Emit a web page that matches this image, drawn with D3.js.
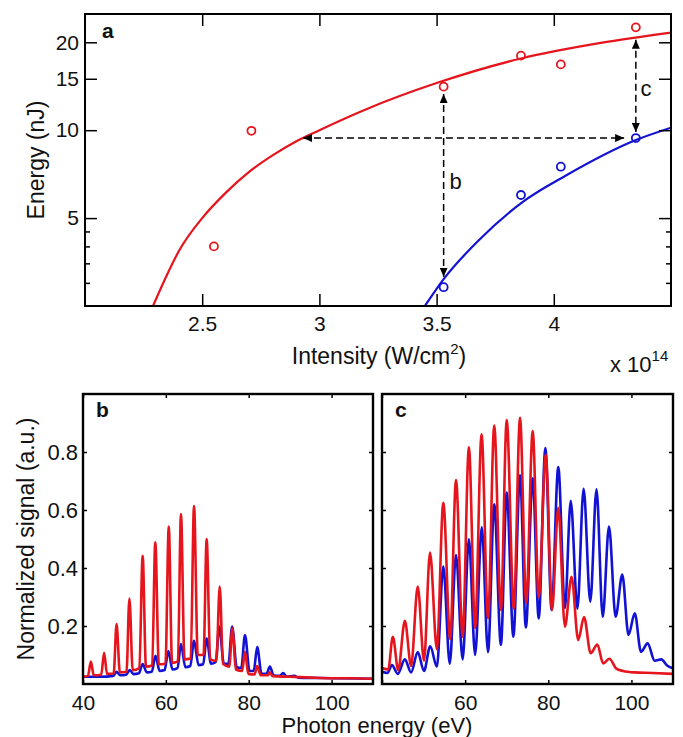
<!DOCTYPE html>
<html>
<head>
<meta charset="utf-8">
<script src="https://cdn.jsdelivr.net/npm/d3@7"></script>
<style>
  body { margin: 0; background: #fff; }
  svg text { font-family: "Liberation Sans", Arial, Helvetica, sans-serif; fill: #111; }
</style>
</head>
<body>
<svg id="chart" width="683" height="737"></svg>
<script>
// ---- panel a: energy vs intensity ----
const redIntensity = [2.55, 2.71, 3.53, 3.86, 4.03, 4.35];
const redEnergy = [4.0, 9.95, 14.1, 18.0, 16.8, 22.5];
const blueIntensity = [3.53, 3.86, 4.03, 4.35];
const blueEnergy = [2.9, 6.0, 7.5, 9.4];

const redFitIntensity = [2.29, 2.35, 2.4, 2.5, 2.6, 2.7, 2.8, 2.9, 3.0, 3.2, 3.5, 3.86, 4.2, 4.5];
const redFitEnergy = [2.5, 3.2, 3.85, 5.0, 6.1, 7.2, 8.2, 9.15, 10.0, 11.8, 14.5, 17.6, 19.9, 21.6];
const blueFitIntensity = [3.45, 3.53, 3.68, 3.865, 4.05, 4.35, 4.5];
const blueFitEnergy = [2.5, 3.09, 4.2, 5.66, 6.98, 9.25, 10.2];

const topXTicks = [2.5, 3, 3.5, 4];
const topYMajor = [5, 10, 15, 20];
const topYMinor = [3, 3.5, 4, 4.5];

// arrows: [x1, y1, x2, y2] in data units
const arrowH = [2.93, 9.4, 4.30, 9.4];
const arrowB = [3.53, 13.3, 3.53, 3.15];
const arrowC = [4.35, 20.4, 4.35, 9.85];

// ---- panels b, c: spectra [photon energy eV, signal] ----
const specB_red = [[40,0.025],[41.2,0.028],[41.9,0.077],[42.6,0.03],[44.4,0.032],[45.1,0.108],[45.8,0.035],
  [47.4,0.036],[48.1,0.207],[48.9,0.04],[50.5,0.042],[51.2,0.295],[52.0,0.048],[53.6,0.055],[54.4,0.442],
  [55.2,0.06],[56.7,0.064],[57.45,0.489],[58.3,0.068],[59.9,0.07],[60.7,0.543],[61.5,0.073],[62.9,0.078],
  [63.65,0.586],[64.5,0.085],[66.0,0.088],[66.8,0.614],[67.7,0.1],[69.1,0.1],[69.85,0.5],[70.7,0.085],
  [72.2,0.08],[73.0,0.336],[73.8,0.07],[75.3,0.06],[76.05,0.192],[76.9,0.05],[78.4,0.045],[79.1,0.111],
  [79.9,0.035],[81.4,0.033],[82.05,0.062],[82.9,0.03],[84.6,0.03],[85.1,0.04],[85.8,0.027],[90,0.025],
  [95,0.022],[100,0.02],[105,0.02],[110,0.018]];
const specB_blue = [[40,0.025],[44,0.025],[47.3,0.028],[48.1,0.042],[49,0.03],[50.4,0.032],[51.3,0.048],
  [52.2,0.034],[53.5,0.037],[54.4,0.069],[55.4,0.04],[56.6,0.042],[57.5,0.097],[58.5,0.045],[59.7,0.048],
  [60.6,0.114],[61.6,0.05],[62.8,0.055],[63.65,0.138],[64.7,0.058],[65.9,0.062],[66.8,0.149],[67.9,0.065],
  [69.0,0.068],[69.85,0.157],[70.9,0.07],[72.0,0.075],[72.9,0.198],[74.0,0.07],[75.1,0.07],[76.0,0.198],
  [77.1,0.058],[78.2,0.055],[79.1,0.169],[80.2,0.045],[81.2,0.045],[82.05,0.127],[83.1,0.035],[84.3,0.035],
  [85.1,0.06],[86.0,0.03],[87.5,0.028],[88.3,0.038],[89.2,0.025],[91,0.028],[92,0.022],[100,0.02],[110,0.018]];
const specC_red = [[40,0.055],[41.5,0.05],[42.6,0.163],[43.9,0.048],[45.5,0.218],[47.0,0.062],[48.6,0.336],
  [50.1,0.08],[51.55,0.453],[53.2,0.12],[54.75,0.625],[56.4,0.155],[57.8,0.703],[59.4,0.163],[60.9,0.816],
  [62.4,0.193],[63.95,0.861],[65.5,0.227],[67.0,0.891],[68.6,0.255],[70.0,0.91],[71.7,0.26],[73.2,0.918],
  [74.7,0.28],[76.25,0.872],[77.7,0.3],[79.4,0.79],[80.9,0.255],[82.4,0.608],[84.0,0.198],[85.6,0.37],
  [87.2,0.152],[88.6,0.231],[90.2,0.106],[91.8,0.136],[93.2,0.071],[94.7,0.087],[96.3,0.054],[98,0.045],
  [100.7,0.04],[105,0.038],[110,0.035]];
const specC_blue = [[40,0.042],[41.3,0.038],[42.4,0.065],[43.8,0.035],[45.5,0.085],[47.0,0.04],[48.6,0.11],
  [50.1,0.045],[51.6,0.13],[53.2,0.06],[54.75,0.405],[56.3,0.07],[57.8,0.445],[59.4,0.085],[60.9,0.499],
  [62.4,0.1],[64.0,0.54],[65.5,0.11],[67.0,0.62],[68.6,0.135],[70.0,0.66],[71.6,0.163],[73.2,0.72],
  [74.6,0.195],[76.25,0.709],[77.7,0.226],[79.3,0.814],[80.8,0.255],[82.4,0.748],[84.0,0.262],[85.4,0.632],
  [87.0,0.26],[88.5,0.673],[90.1,0.284],[91.6,0.671],[93.1,0.232],[94.6,0.543],[96.2,0.232],[97.8,0.377],
  [99.3,0.169],[100.8,0.244],[102.3,0.111],[103.9,0.14],[105.6,0.08],[107.2,0.085],[108.5,0.065],[110,0.054]];

const specXTicks = [40, 60, 80, 100];
const specYTicks = [0.2, 0.4, 0.6, 0.8];

const RED = "#e6141c";
const BLUE = "#1212d4";

const svg = d3.select("#chart");
const defs = svg.append("defs");

defs.append("marker")
  .attr("id", "head")
  .attr("markerUnits", "userSpaceOnUse")
  .attr("markerWidth", 10).attr("markerHeight", 8)
  .attr("refX", 9).attr("refY", 4)
  .attr("orient", "auto-start-reverse")
  .append("path").attr("d", "M0,0 L9,4 L0,8 Z").attr("fill", "#000");

function styleAxis(g, size) {
  g.select(".domain").remove();
  g.selectAll(".tick line").attr("stroke", "#000").attr("stroke-width", 1.5);
  g.selectAll(".tick text").attr("font-size", size)
    .attr("font-family", '"Liberation Sans", Arial, sans-serif').attr("fill", "#111");
}

// ================= panel a =================
const A = { left: 85, right: 671, top: 14, bottom: 306 };
const xA = d3.scaleLinear().domain([2, 4.5]).range([A.left, A.right]);
const yA = d3.scaleLog().domain([2.5, 25]).range([A.bottom, A.top]);

defs.append("clipPath").attr("id", "clipA").append("rect")
  .attr("x", A.left).attr("y", A.top).attr("width", A.right - A.left).attr("height", A.bottom - A.top);

const gA = svg.append("g");
const fitLine = d3.line().x(d => xA(d[0])).y(d => yA(d[1])).curve(d3.curveMonotoneX);

gA.append("path").datum(d3.zip(redFitIntensity, redFitEnergy))
  .attr("clip-path", "url(#clipA)")
  .attr("fill", "none").attr("stroke", RED).attr("stroke-width", 2.2).attr("d", fitLine);
gA.append("path").datum(d3.zip(blueFitIntensity, blueFitEnergy))
  .attr("clip-path", "url(#clipA)")
  .attr("fill", "none").attr("stroke", BLUE).attr("stroke-width", 2.2).attr("d", fitLine);

gA.selectAll("circle.red").data(d3.zip(redIntensity, redEnergy)).join("circle")
  .attr("class", "red")
  .attr("cx", d => xA(d[0])).attr("cy", d => yA(d[1])).attr("r", 4)
  .attr("fill", "none").attr("stroke", RED).attr("stroke-width", 1.8);
gA.selectAll("circle.blue").data(d3.zip(blueIntensity, blueEnergy)).join("circle")
  .attr("class", "blue")
  .attr("cx", d => xA(d[0])).attr("cy", d => yA(d[1])).attr("r", 4)
  .attr("fill", "none").attr("stroke", BLUE).attr("stroke-width", 1.8);

[arrowH, arrowB, arrowC].forEach(a => {
  gA.append("line")
    .attr("x1", xA(a[0])).attr("y1", yA(a[1]))
    .attr("x2", xA(a[2])).attr("y2", yA(a[3]))
    .attr("stroke", "#000").attr("stroke-width", 1.5)
    .attr("stroke-dasharray", "7,4")
    .attr("marker-start", "url(#head)").attr("marker-end", "url(#head)");
});

gA.append("text").attr("x", xA(3.555)).attr("y", yA(6.3)).attr("font-size", 22).text("b");
gA.append("text").attr("x", xA(4.37)).attr("y", yA(13.1)).attr("font-size", 22).text("c");

// axes
gA.append("g").attr("transform", `translate(${A.left},0)`)
  .call(d3.axisLeft(yA).tickValues(topYMajor).tickSize(-12).tickPadding(6).tickFormat(d3.format("d")))
  .call(g => styleAxis(g, 21));
gA.append("g").attr("transform", `translate(${A.left},0)`)
  .call(d3.axisLeft(yA).tickValues(topYMinor).tickSize(-5).tickFormat(""))
  .call(g => styleAxis(g, 21));
gA.append("g").attr("transform", `translate(${A.right},0)`)
  .call(d3.axisRight(yA).tickValues(topYMajor).tickSize(-12).tickFormat(""))
  .call(g => styleAxis(g, 21));
gA.append("g").attr("transform", `translate(${A.right},0)`)
  .call(d3.axisRight(yA).tickValues(topYMinor).tickSize(-5).tickFormat(""))
  .call(g => styleAxis(g, 21));
gA.append("g").attr("transform", `translate(0,${A.bottom})`)
  .call(d3.axisBottom(xA).tickValues(topXTicks).tickSize(-12).tickPadding(10).tickFormat(d => String(d)))
  .call(g => styleAxis(g, 21));
gA.append("g").attr("transform", `translate(0,${A.top})`)
  .call(d3.axisTop(xA).tickValues(topXTicks).tickSize(-12).tickFormat(""))
  .call(g => styleAxis(g, 21));

gA.append("rect")
  .attr("x", A.left).attr("y", A.top).attr("width", A.right - A.left).attr("height", A.bottom - A.top)
  .attr("fill", "none").attr("stroke", "#000").attr("stroke-width", 2);

gA.append("text").attr("x", 102).attr("y", 38).attr("font-size", 21).attr("font-weight", "bold").text("a");

const tI = gA.append("text").attr("x", 379).attr("y", 364).attr("text-anchor", "middle").attr("font-size", 23);
tI.append("tspan").text("Intensity (W/cm");
tI.append("tspan").attr("font-size", 15).attr("dy", -10).text("2");
tI.append("tspan").attr("dy", 10).text(")");

const tX = gA.append("text").attr("x", 610).attr("y", 372).attr("font-size", 22);
tX.append("tspan").text("x 10");
tX.append("tspan").attr("font-size", 15).attr("dy", -11).text("14");

gA.append("text").attr("transform", `translate(44,${(A.top + A.bottom) / 2}) rotate(-90)`)
  .attr("text-anchor", "middle").attr("font-size", 23).text("Energy (nJ)");

// ================= panels b, c =================
const S = { top: 394, bottom: 684 };
const ySpec = d3.scaleLinear().domain([0, 1]).range([S.bottom, S.top]);

function spectrumPanel(left, right, blueData, redData, letter, yLabels, xFormat) {
  const x = d3.scaleLinear().domain([40, 110]).range([left, right]);
  const id = "clip" + letter;
  defs.append("clipPath").attr("id", id).append("rect")
    .attr("x", left).attr("y", S.top).attr("width", right - left).attr("height", S.bottom - S.top);
  const g = svg.append("g");
  const line = d3.line().x(d => x(d[0])).y(d => ySpec(d[1])).curve(d3.curveMonotoneX);

  g.append("path").datum(blueData).attr("clip-path", `url(#${id})`)
    .attr("fill", "none").attr("stroke", BLUE).attr("stroke-width", 2.6).attr("stroke-linejoin", "round").attr("d", line);
  g.append("path").datum(redData).attr("clip-path", `url(#${id})`)
    .attr("fill", "none").attr("stroke", RED).attr("stroke-width", 2.6).attr("stroke-linejoin", "round").attr("d", line);

  g.append("g").attr("transform", `translate(0,${S.bottom})`)
    .call(d3.axisBottom(x).tickValues(specXTicks).tickSize(-4).tickPadding(11).tickFormat(xFormat))
    .call(a => styleAxis(a, 21));
  g.append("g").attr("transform", `translate(0,${S.top})`)
    .call(d3.axisTop(x).tickValues(specXTicks).tickSize(-4).tickFormat(""))
    .call(a => styleAxis(a, 21));
  g.append("g").attr("transform", `translate(${left},0)`)
    .call(d3.axisLeft(ySpec).tickValues(specYTicks).tickSize(-4).tickPadding(5)
      .tickFormat(yLabels ? d3.format(".1f") : ""))
    .call(a => styleAxis(a, 22));
  g.append("g").attr("transform", `translate(${right},0)`)
    .call(d3.axisRight(ySpec).tickValues(specYTicks).tickSize(-4).tickFormat(""))
    .call(a => styleAxis(a, 22));

  g.append("rect").attr("x", left).attr("y", S.top).attr("width", right - left).attr("height", S.bottom - S.top)
    .attr("fill", "none").attr("stroke", "#000").attr("stroke-width", 2.4);

  g.append("text").attr("x", left + 13).attr("y", S.top + 23)
    .attr("font-size", 21).attr("font-weight", "bold").text(letter);
}

spectrumPanel(83, 373, specB_blue, specB_red, "b", true, d => String(d));
spectrumPanel(382, 673, specC_blue, specC_red, "c", false, d => d === 40 ? "" : String(d));

svg.append("text").attr("x", 377).attr("y", 733).attr("text-anchor", "middle")
  .attr("font-size", 22).text("Photon energy (eV)");
svg.append("text").attr("transform", `translate(34,${(S.top + S.bottom) / 2}) rotate(-90)`)
  .attr("text-anchor", "middle").attr("font-size", 23).text("Normalized signal (a.u.)");
</script>
</body>
</html>
